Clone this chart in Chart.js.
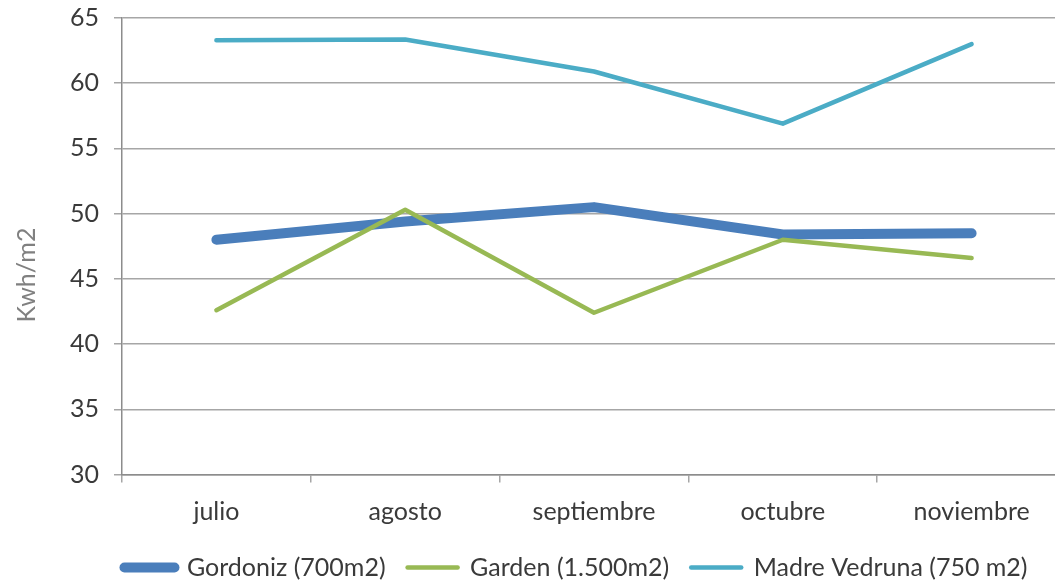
<!DOCTYPE html>
<html>
<head>
<meta charset="utf-8">
<script src="https://cdn.jsdelivr.net/npm/chart.js@4"></script>
<style>
html,body{margin:0;padding:0;overflow:hidden;background:#fff;}
#wrap{position:relative;width:1067px;height:583px;}
</style>
</head>
<body>
<div id="wrap"><canvas id="c"></canvas></div>
<script>
const categories = ['julio', 'agosto', 'septiembre', 'octubre', 'noviembre'];
const gordoniz = [48.0, 49.4, 50.5, 48.4, 48.5];
const garden = [42.6, 50.3, 42.4, 48.0, 46.6];
const madreVedruna = [63.3, 63.35, 60.9, 56.9, 63.0];
const seriesNames = ['Gordoniz (700m2)', 'Garden (1.500m2)', 'Madre Vedruna (750 m2)'];
const yTitle = 'Kwh/m2';
const yMin = 30, yMax = 65, yStep = 5;

const FONT = 'Lato';
const TEXT = '#3a3a3a';
const GRID = '#a6a6a6';

const yTitlePlugin = {
  id: 'yTitleDraw',
  afterDraw(chart) {
    const ctx = chart.ctx;
    ctx.save();
    ctx.translate(27, 275);
    ctx.rotate(-Math.PI / 2);
    ctx.font = '25px ' + FONT;
    ctx.fillStyle = '#808080';
    ctx.textAlign = 'center';
    ctx.textBaseline = 'middle';
    ctx.fillText(yTitle, 0, 0);
    ctx.restore();
  }
};

const legendShift = {
  id: 'legendShift',
  afterLayout(chart) {
    const lg = chart.legend;
    if (!lg) return;
    const dx = 43, dy = 7;
    lg.left += dx; lg.right += dx;
    lg.top += dy; lg.bottom += dy;
  }
};

new Chart(document.getElementById('c'), {
  type: 'line',
  data: {
    labels: categories,
    datasets: [
      { label: seriesNames[0], data: gordoniz, borderColor: '#4a7ebb', backgroundColor: '#4a7ebb', borderWidth: 10, order: 3 },
      { label: seriesNames[1], data: garden, borderColor: '#98b954', backgroundColor: '#98b954', borderWidth: 4.5, order: 2 },
      { label: seriesNames[2], data: madreVedruna, borderColor: '#4bacc6', backgroundColor: '#4bacc6', borderWidth: 4.5, order: 1 }
    ].map(d => Object.assign(d, { pointRadius: 0, pointHoverRadius: 0, tension: 0, borderCapStyle: 'round', borderJoinStyle: 'round', fill: false }))
  },
  options: {
    responsive: true,
    maintainAspectRatio: false,
    animation: false,
    layout: { padding: { left: 0, right: 1, top: 18, bottom: 0 } },
    plugins: {
      tooltip: { enabled: false },
      legend: {
        position: 'bottom',
        labels: {
          usePointStyle: true,
          pointStyle: 'line',
          pointStyleWidth: 50,
          padding: 22,
          color: TEXT,
          font: { family: FONT, size: 25 },
          sort: (a, b) => a.datasetIndex - b.datasetIndex,
          generateLabels(chart) {
            const items = Chart.defaults.plugins.legend.labels.generateLabels(chart);
            items.forEach(it => {
              const ds = chart.data.datasets[it.datasetIndex];
              it.lineWidth = ds.borderWidth;
              it.strokeStyle = ds.borderColor;
              it.fillStyle = ds.borderColor;
              it.lineCap = 'round';
              it.pointStyle = 'line';
            });
            return items;
          }
        }
      }
    },
    scales: {
      x: {
        offset: true,
        grid: { offset: true, drawOnChartArea: false, drawTicks: true, tickLength: 8, color: GRID, lineWidth: 1.5 },
        border: { display: true, color: '#8c8c8c', width: 1.5 },
        ticks: { color: TEXT, font: { family: FONT, size: 25 }, padding: 14, maxRotation: 0, autoSkip: false },
        afterFit(scale) { scale.height = 51.5; scale.paddingLeft = 0; scale.paddingRight = 0; }
      },
      y: {
        min: yMin, max: yMax,
        grid: { color: GRID, lineWidth: 1.5, tickLength: 8 },
        border: { display: true, color: '#8c8c8c', width: 1.5 },
        ticks: { stepSize: yStep, color: TEXT, font: { family: FONT, size: 25 }, padding: 15 },
        afterFit(scale) { scale.width = 122; scale.paddingTop = 0; scale.paddingBottom = 0; }
      }
    }
  },
  plugins: [yTitlePlugin, legendShift]
});
</script>
</body>
</html>
